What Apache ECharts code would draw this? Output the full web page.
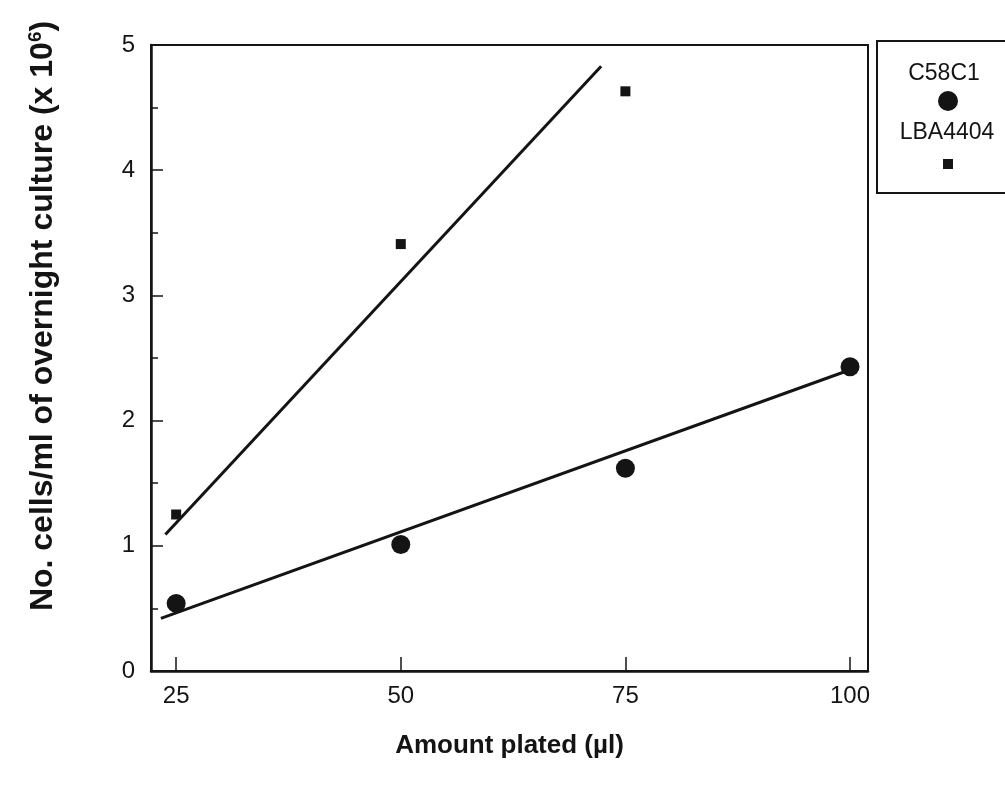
<!DOCTYPE html>
<html>
<head>
<meta charset="utf-8">
<script src="https://cdn.jsdelivr.net/npm/echarts@6/dist/echarts.min.js"></script>
<style>
html,body{margin:0;padding:0;background:#fff;}
#chart{width:1005px;height:785px;}
</style>
</head>
<body>
<div id="chart"></div>
<script>
// Data
const xTicks = [25, 50, 75, 100];
const c58c1X = [25, 50, 75, 100];
const c58c1Y = [0.54, 1.01, 1.62, 2.43];
const lbaX = [25, 50, 75];
const lbaY = [1.25, 3.41, 4.63];
// fitted lines as drawn (end points)
const c58c1FitX = [23.3, 99.4];
const c58c1FitY = [0.42, 2.39];
const lbaFitX = [23.8, 72.3];
const lbaFitY = [1.09, 4.83];
const seriesNames = ['C58C1', 'LBA4404'];

const zip = (a, b) => a.map((v, i) => [v, b[i]]);
const ink = '#141414';
const font = 'Liberation Sans, Arial, sans-serif';

const chart = echarts.init(document.getElementById('chart'));
chart.setOption({
  backgroundColor: '#fff',
  animation: false,
  grid: {
    left: 151, right: 137, top: 45, bottom: 114,
    show: true, borderColor: ink, borderWidth: 2
  },
  xAxis: {
    type: 'value', min: 22.2, max: 102,
    name: 'Amount plated (µl)',
    nameLocation: 'middle', nameGap: 62,
    nameTextStyle: {fontFamily: font, fontSize: 26, fontWeight: 'bold', color: ink},
    axisLine: {show: true, onZero: false, lineStyle: {color: ink, width: 2.5}},
    axisTick: {show: true, inside: true, length: 14, customValues: xTicks, lineStyle: {color: ink, width: 1.5}},
    axisLabel: {customValues: xTicks, margin: 13, fontFamily: font, fontSize: 24, color: ink},
    splitLine: {show: false}
  },
  yAxis: {
    type: 'value', min: 0, max: 5, interval: 1,
    name: 'No. cells/ml of overnight culture (x 10{sup|6})',
    nameLocation: 'middle', nameGap: 90, nameRotate: 90,
    nameTextStyle: {
      fontFamily: font, fontSize: 32, fontWeight: 'bold', color: ink,
      padding: [0, 0, 0, 84],
      rich: {sup: {fontFamily: font, fontSize: 19, fontWeight: 'bold', color: ink, verticalAlign: 'top', padding: [0, 0, 16, 0]}}
    },
    axisLine: {show: true, lineStyle: {color: ink, width: 2.5}},
    axisTick: {show: true, inside: true, length: 12, lineStyle: {color: ink, width: 1.5}},
    minorTick: {show: true, splitNumber: 2, length: 7, lineStyle: {color: ink, width: 1.5}},
    axisLabel: {margin: 16, padding: [5, 0, 0, 0], fontFamily: font, fontSize: 24, color: ink},
    splitLine: {show: false},
    minorSplitLine: {show: false}
  },
  series: [
    {
      name: seriesNames[0], type: 'scatter', data: zip(c58c1X, c58c1Y),
      symbol: 'circle', symbolSize: 19, itemStyle: {color: ink, opacity: 1}, z: 5
    },
    {
      name: seriesNames[1], type: 'scatter', data: zip(lbaX, lbaY),
      symbol: 'rect', symbolSize: 10, itemStyle: {color: ink, opacity: 1}, z: 5
    },
    {
      name: seriesNames[0] + ' fit', type: 'line', data: zip(c58c1FitX, c58c1FitY),
      showSymbol: false, lineStyle: {color: ink, width: 3}
    },
    {
      name: seriesNames[1] + ' fit', type: 'line', data: zip(lbaFitX, lbaFitY),
      showSymbol: false, lineStyle: {color: ink, width: 3}
    }
  ],
  graphic: [
    {
      type: 'group', left: 876, top: 40,
      children: [
        {type: 'rect', shape: {x: 0, y: 0, width: 140, height: 152},
         style: {fill: '#fff', stroke: ink, lineWidth: 2}},
        {type: 'text', style: {x: 67, y: 33, text: seriesNames[0], fill: ink,
          font: '23px ' + font, textAlign: 'center', textVerticalAlign: 'middle'}},
        {type: 'circle', shape: {cx: 71, cy: 60, r: 10}, style: {fill: ink}},
        {type: 'text', style: {x: 70, y: 92, text: seriesNames[1], fill: ink,
          font: '23px ' + font, textAlign: 'center', textVerticalAlign: 'middle'}},
        {type: 'rect', shape: {x: 66, y: 118, width: 10, height: 10}, style: {fill: ink}}
      ]
    }
  ]
});
</script>
</body>
</html>
